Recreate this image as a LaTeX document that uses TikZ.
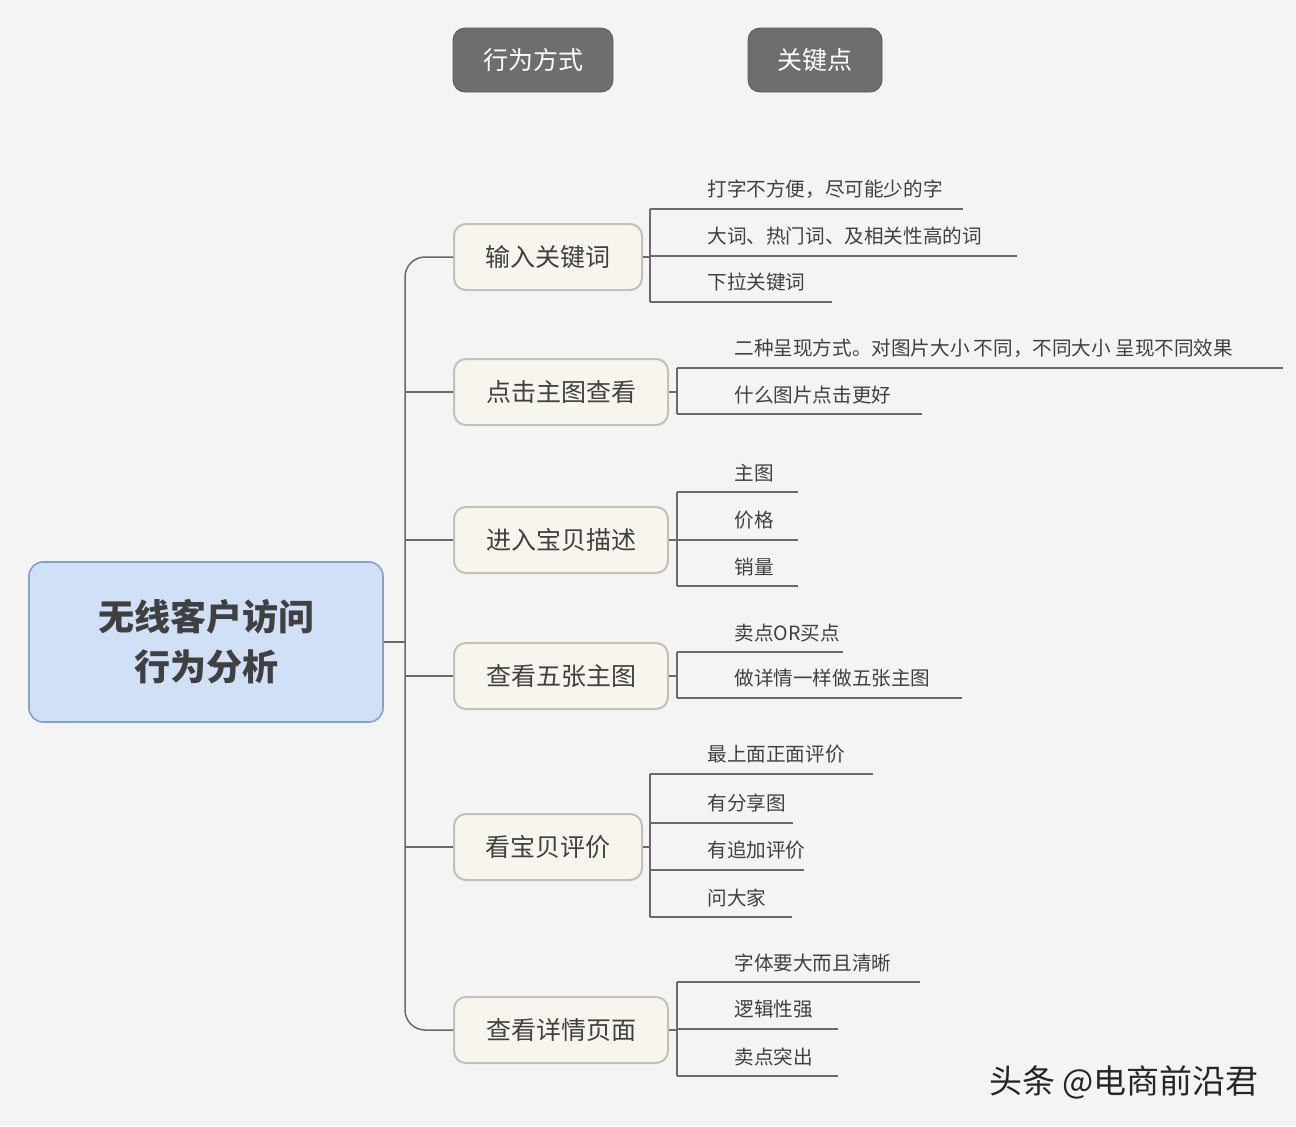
\documentclass[tikz,border=0pt]{standalone}
\usepackage{fontspec}
\setmainfont{Noto Sans CJK SC}
\usetikzlibrary{positioning}
\definecolor{bgc}{HTML}{F4F4F4}
\definecolor{hdr}{HTML}{6E6E6E}
\definecolor{rootfill}{HTML}{CFE0F7}
\definecolor{rootline}{HTML}{7FA2CF}
\definecolor{boxfill}{HTML}{F8F5EF}
\definecolor{boxline}{HTML}{C5C0B5}
\definecolor{wire}{HTML}{6A6A6A}
\begin{document}
\begin{tikzpicture}[x=0.5pt,y=-0.5pt,
    header/.style={draw=hdr!80!black,fill=hdr,rounded corners=6pt,text=white,font=\fontsize{12.5}{14}\selectfont,minimum height=32pt,inner sep=0pt},
    root/.style={draw=rootline,fill=rootfill,rounded corners=7pt,line width=0.8pt,minimum width=177pt,minimum height=80pt,align=center,font=\fontsize{18}{25}\selectfont\bfseries,text=black!75},
    branch/.style={draw=boxline,fill=boxfill,rounded corners=6pt,line width=1pt,minimum height=33pt,anchor=west,inner sep=0pt,font=\fontsize{12.5}{14}\selectfont,text=black!75},
    leaf/.style={anchor=south west,inner sep=0pt,yshift=5pt,font=\fontsize{9.8}{11}\selectfont,text=black!75},
    wireline/.style={draw=wire,line width=0.75pt}]
\fill[bgc] (0,0) rectangle (1296,1126);

% headers
\node[header,minimum width=80pt] (way) at (533,60) {行为方式};
\node[header,minimum width=67pt] (key) at (815,60) {关键点};

% root and branches
\node[root] (root) at (206,642) {无线客户访问\\行为分析};
\node[branch,minimum width=94pt]  (b1) at (453,257)  {输入关键词};
\node[branch,minimum width=107pt] (b2) at (453,392)  {点击主图查看};
\node[branch,minimum width=107pt] (b3) at (453,540)  {进入宝贝描述};
\node[branch,minimum width=107pt] (b4) at (453,676)  {查看五张主图};
\node[branch,minimum width=94pt]  (b5) at (453,847)  {看宝贝评价};
\node[branch,minimum width=107pt] (b6) at (453,1030) {查看详情页面};

\coordinate (trunk) at (405,642);
\draw[wireline] (root.east) -- (trunk);
\draw[wireline,rounded corners=10pt] (b1.west) -- (b1.west -| trunk) -- (b6.west -| trunk) -- (b6.west);
\foreach \b in {b2,b3,b4,b5}
  \draw[wireline] (\b.west -| trunk) -- (\b.west);

% leaves: branch / bracket x / count / lines y/end/text
\foreach \b/\bx/\n/\items in {
  b1/650/3/{209/963/打字不方便，尽可能少的字, 256/1017/大词、热门词、及相关性高的词, 302/832/下拉关键词},
  b2/677/2/{368/1283/二种呈现方式。对图片大小 不同，不同大小 呈现不同效果, 414/922/什么图片点击更好},
  b3/677/3/{492/798/主图, 540/798/价格, 586/798/销量},
  b4/677/2/{652/843/卖点OR买点, 698/962/做详情一样做五张主图},
  b5/650/4/{774/873/最上面正面评价, 823/793/有分享图, 870/804/有追加评价, 917/792/问大家},
  b6/677/3/{982/920/字体要大而且清晰, 1029/838/逻辑性强, 1076/838/卖点突出}} {
  \coordinate (\b-br) at (\bx,0);
  \draw[wireline] (\b.east) -- (\b.east -| \b-br);
  \foreach \y/\xe/\txt [count=\i] in \items {
    \coordinate (\b-l\i) at (\bx,\y);
    \coordinate (\b-e\i) at (\xe,\y);
    \draw[wireline] (\b-l\i) -- (\b-e\i);
    \node[leaf] (\b-t\i) at ([xshift=28.5pt]\b-l\i) {\txt};
  }
  \draw[wireline] (\b-l1) -- (\b-l\n);
}

% watermark
\node[anchor=east,font=\fontsize{16.5}{18}\selectfont,text=black!85] (mark) at (1266,1082) {头条 @电商前沿君};
\end{tikzpicture}
\end{document}
